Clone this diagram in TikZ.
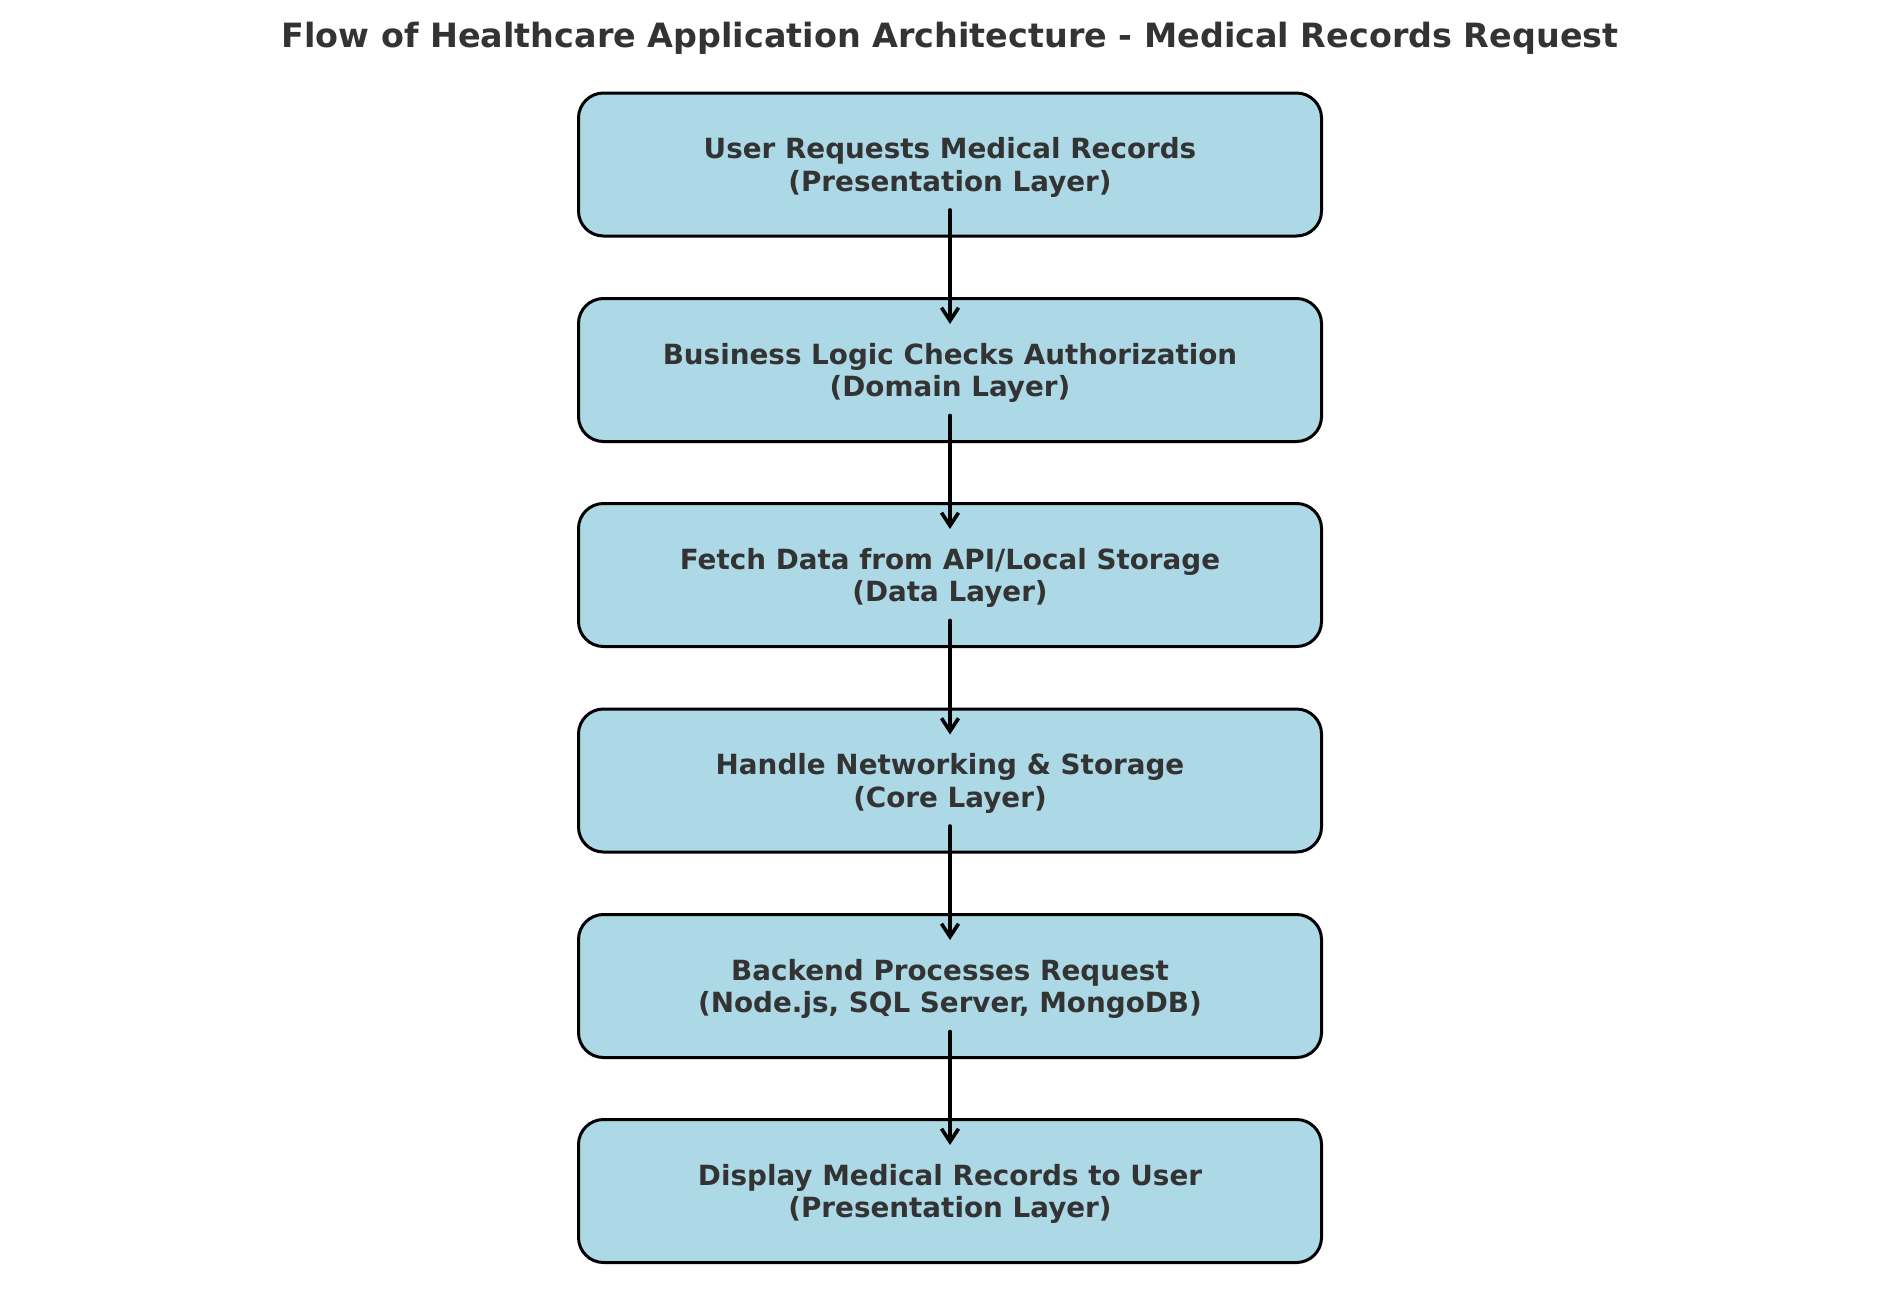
\documentclass[tikz,border=0pt]{standalone}
\usepackage{fontspec}
\setmainfont{DejaVu Sans}
\usetikzlibrary{arrows.meta}
\definecolor{boxfill}{HTML}{ADD8E6}
\definecolor{txt}{HTML}{333333}
\tikzset{
  stepbox/.style={draw=black, line width=3pt, fill=boxfill, rounded corners=25pt,
    minimum width=743pt, minimum height=143pt, inner sep=0pt},
  steptext/.style={align=center, text=txt, inner sep=0pt,
    font=\fontsize{27.8}{32.6}\selectfont\bfseries},
  flow/.style={line width=3.6pt, -{Straight Barb[length=13pt,width=17pt,line width=3.6pt]}, line cap=round}
}
\begin{document}
\begin{tikzpicture}[x=1pt,y=-1pt]
\useasboundingbox (0,0) rectangle (1900,1314);
\node[text=txt, font=\fontsize{33.4}{40}\selectfont\bfseries] (title) at (950,38.5) {Flow of Healthcare Application Architecture - Medical Records Request};
\node[stepbox] (b1) at (950,164.5) {};
\node[stepbox] (b2) at (950,370) {};
\node[stepbox] (b3) at (950,575) {};
\node[stepbox] (b4) at (950,780.5) {};
\node[stepbox] (b5) at (950,986) {};
\node[stepbox] (b6) at (950,1191) {};
\node[steptext] (t1) at ([yshift=-3pt]b1.center) {User Requests Medical Records\\(Presentation Layer)};
\node[steptext] (t2) at ([yshift=-3pt]b2.center) {Business Logic Checks Authorization\\(Domain Layer)};
\node[steptext] (t3) at ([yshift=-3pt]b3.center) {Fetch Data from API/Local Storage\\(Data Layer)};
\node[steptext] (t4) at ([yshift=-3pt]b4.center) {Handle Networking \& Storage\\(Core Layer)};
\node[steptext] (t5) at ([yshift=-3pt]b5.center) {Backend Processes Request\\(Node.js, SQL Server, MongoDB)};
\node[steptext] (t6) at ([yshift=-3pt]b6.center) {Display Medical Records to User\\(Presentation Layer)};
\foreach \a/\b in {b1/b2,b2/b3,b3/b4,b4/b5,b5/b6}{
  \draw[flow] ([yshift=-45.5pt]\a.center) -- ([yshift=46pt]\b.center);
}
\end{tikzpicture}
\end{document}
